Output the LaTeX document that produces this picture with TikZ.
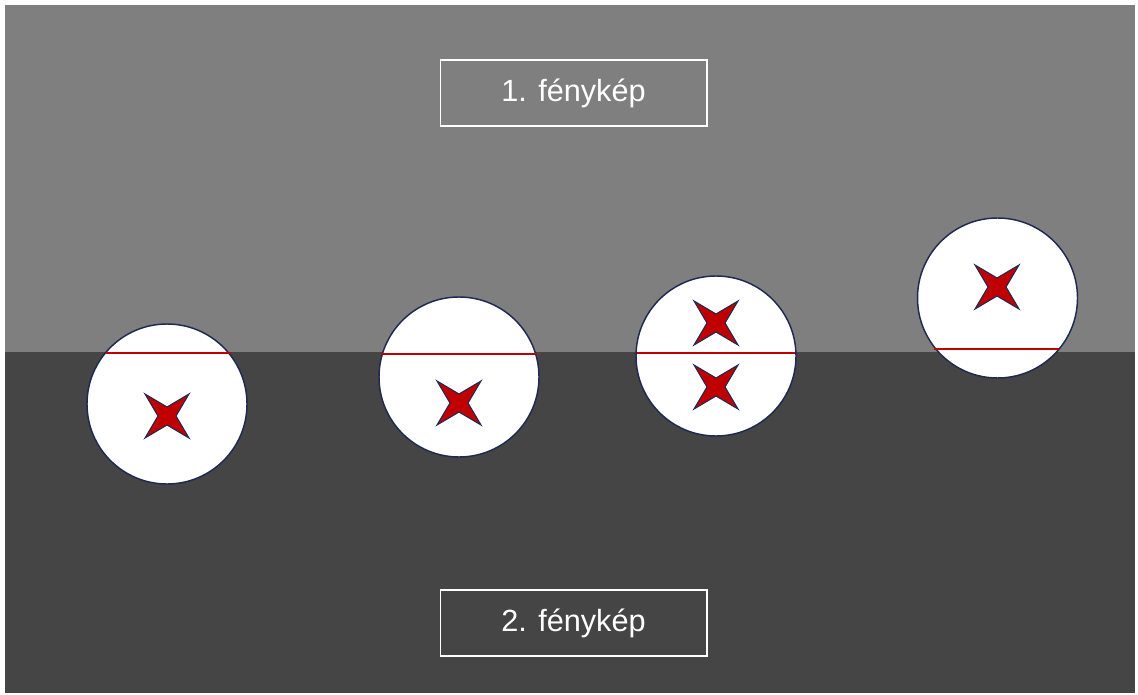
\documentclass[tikz,border=0pt]{standalone}
\usepackage{fontspec}
\setmainfont{Liberation Sans}
\definecolor{skyband}{HTML}{7F7F7F}
\definecolor{groundband}{HTML}{454545}
\definecolor{rimblue}{HTML}{1F2A50}
\definecolor{markred}{HTML}{C00000}
\begin{document}
\begin{tikzpicture}[x=0.75pt,y=-0.75pt,
  lens/.style={circle,draw=rimblue,line width=1.1pt,fill=white,minimum size=120pt,inner sep=0pt},
  tag/.style={draw=white,line width=1pt,text=white,minimum width=200pt,minimum height=49.5pt,
    font=\fontsize{23}{28}\selectfont,inner sep=0pt},
  horizon/.style={draw=markred,line width=2pt},
  cross/.style={fill=markred,draw=rimblue,line width=0.8pt,line join=miter}]
\useasboundingbox (0,0) rectangle (1138,695);
% sky and ground
\fill[skyband] (5,5) rectangle (1135,352);
\fill[groundband] (5,352) rectangle (1135,693);
% captions
\node[tag] (top) at (573.5,93) {1. fénykép};
\node[tag] (bottom) at (573.5,623) {2. fénykép};
% four-pointed marker
\newcommand{\marker}[1]{%
  \fill[cross,shift={#1}] (-22,-22) -- (0,-9) -- (22,-22) -- (9,0) -- (22,22) -- (0,9) -- (-22,22) -- (-9,0) -- cycle;}
% lenses
\node[lens] (l1) at (167,404) {};
\node[lens] (l2) at (459,377) {};
\node[lens] (l3) at (716,356) {};
\node[lens] (l4) at (997.5,298) {};
% horizon lines inside each lens
\draw[horizon] (106,353) -- (231,353);
\draw[horizon] (381,354) -- (537,354);
\draw[horizon] (637,353) -- (795,353);
\draw[horizon] (934,349) -- (1059,349);
% markers
\marker{(167,416)}
\marker{(459,403)}
\marker{(716,323)}
\marker{(716,387)}
\marker{(997,287)}
\end{tikzpicture}
\end{document}
